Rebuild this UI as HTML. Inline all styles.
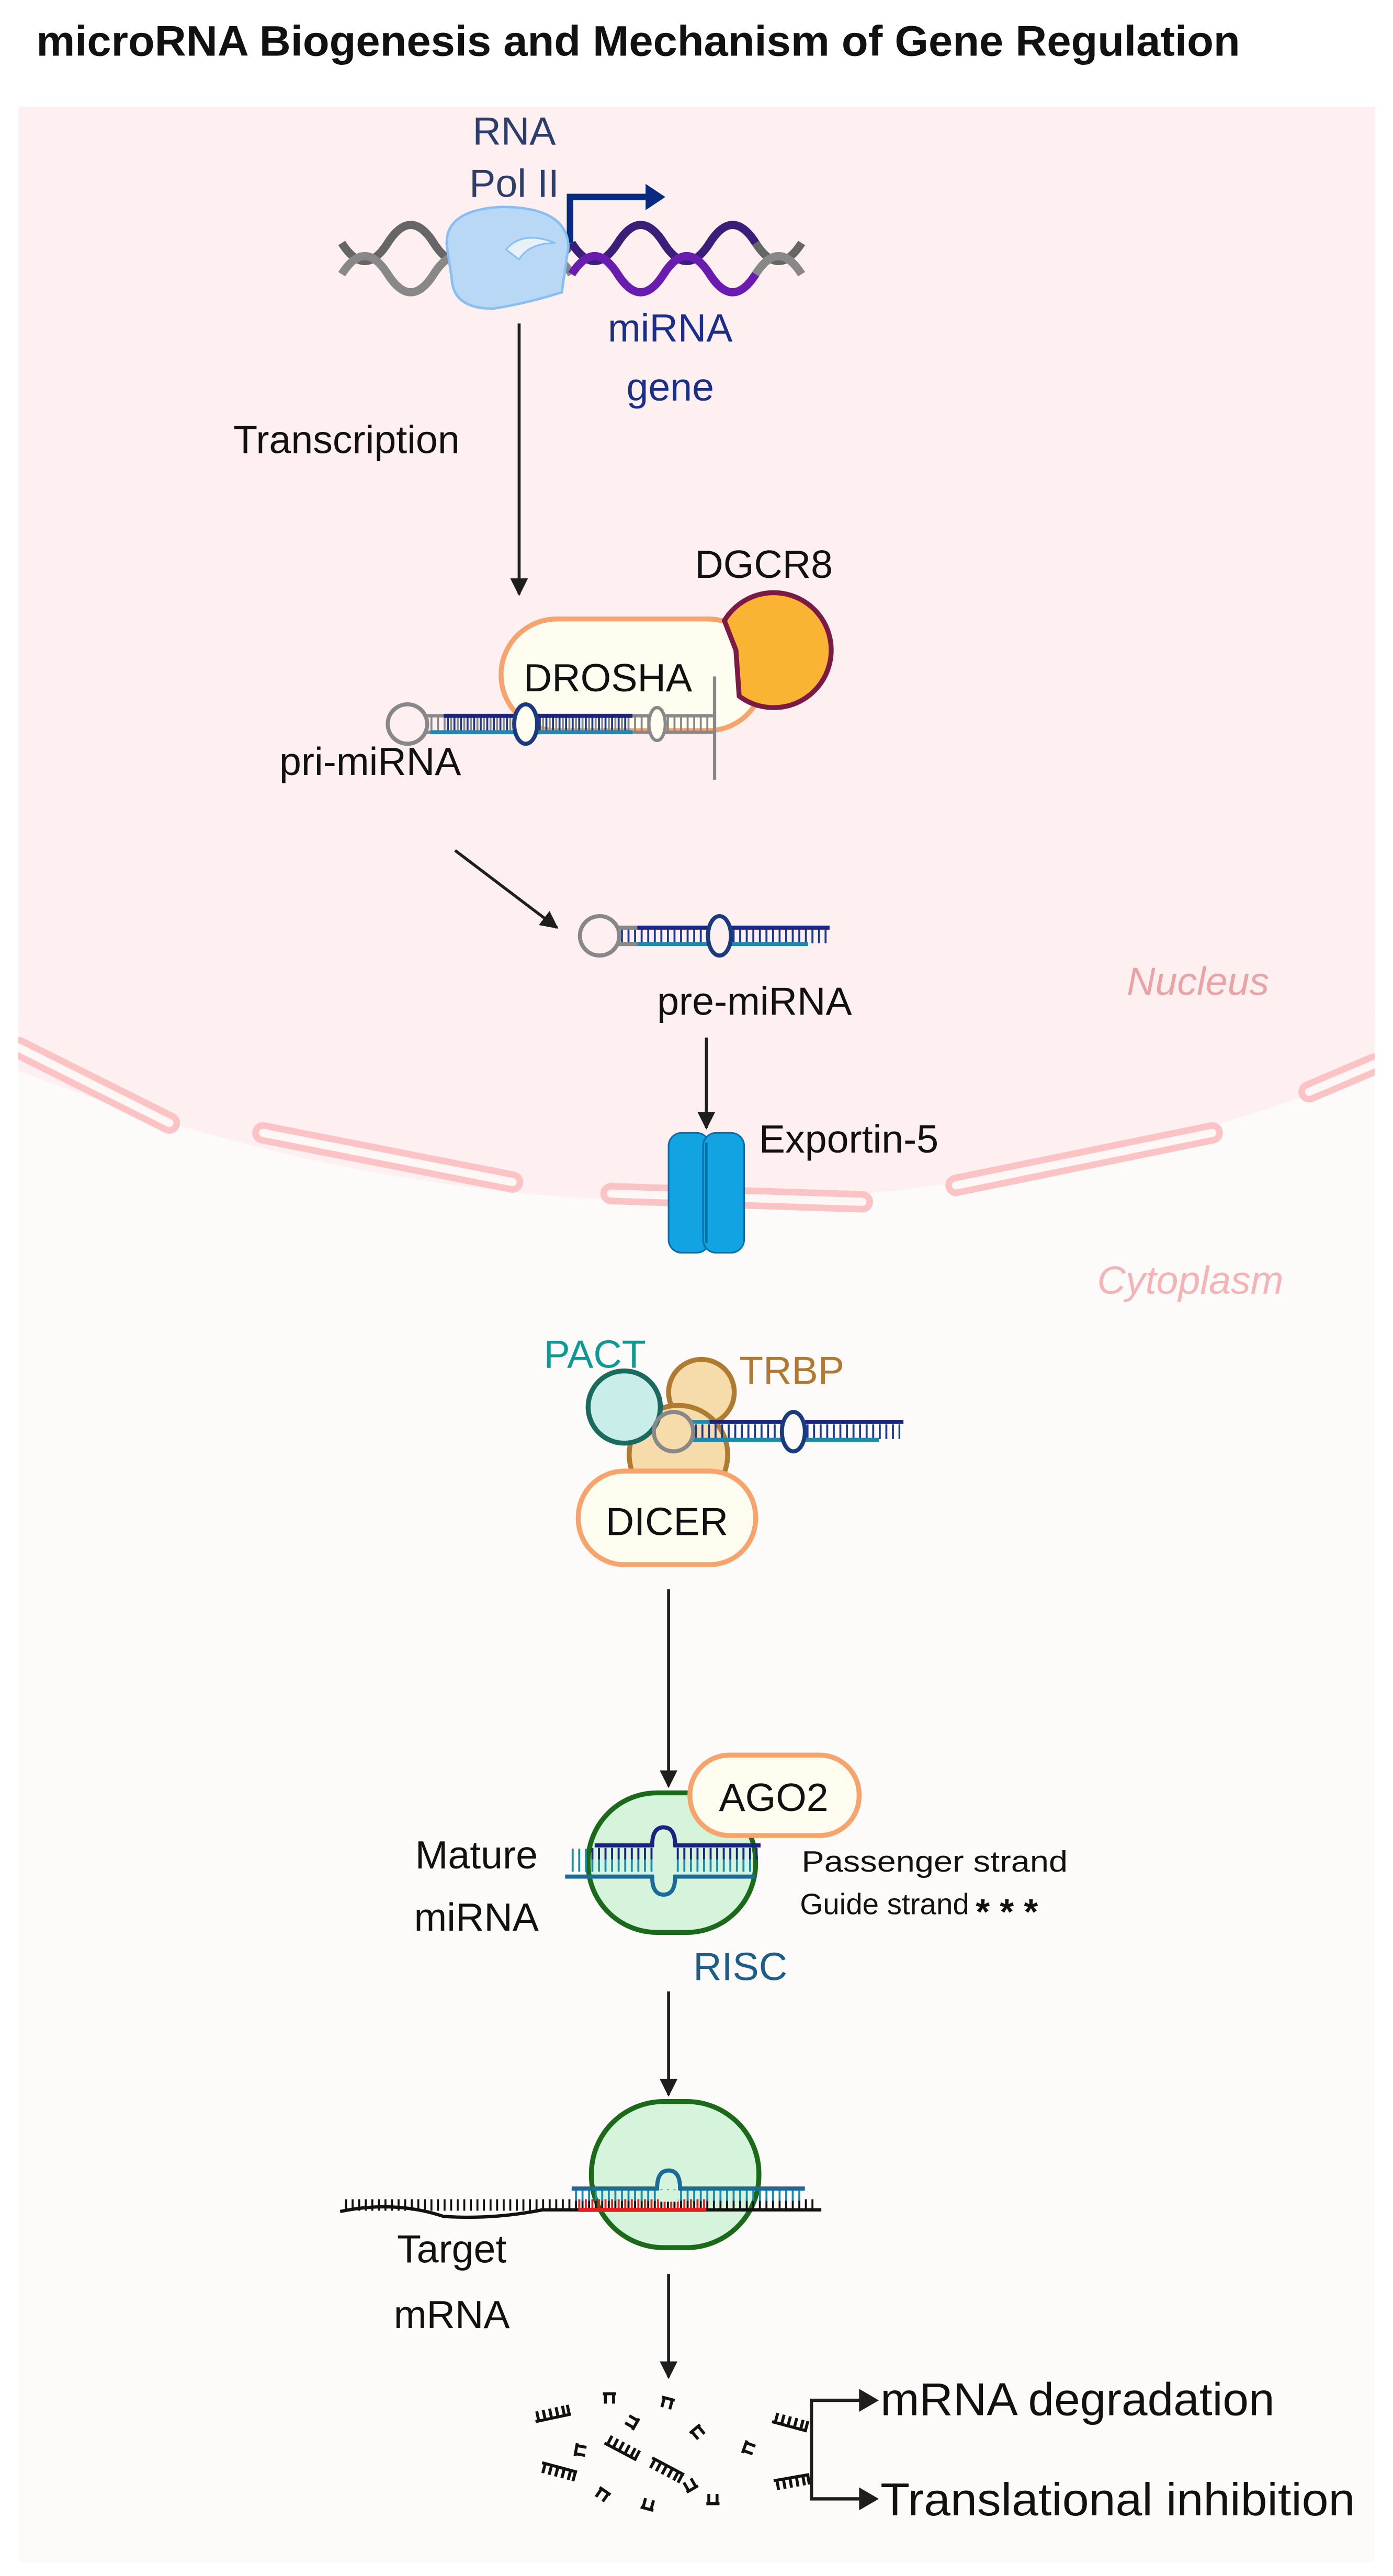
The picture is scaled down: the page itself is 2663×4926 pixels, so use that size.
<!DOCTYPE html>
<html><head><meta charset="utf-8"><style>
html,body{margin:0;padding:0;background:#fff}
svg{display:block}
text{font-family:"Liberation Sans",sans-serif}
</style></head><body>
<svg width="2663" height="4926" viewBox="0 0 848 1569" xmlns="http://www.w3.org/2000/svg">
<defs>
<marker id="ah" viewBox="0 0 10 10" refX="9" refY="5" markerWidth="6" markerHeight="6" orient="auto"><path d="M0 0L10 5L0 10z" fill="#1e1e1e"/></marker>
<g id="frag"><path d="M0 0H22M2 0v-6M6 0v-6M10 0v-6M14 0v-6M18 0v-6M21 0v-6" stroke="#111" stroke-width="1.8" fill="none"/></g>
<g id="frag2"><path d="M0 0H8M1.5 0v-6M6.5 0v-6" stroke="#111" stroke-width="1.8" fill="none"/></g>
</defs>
<rect width="848" height="1569" fill="#fff"/>
<text x="22" y="34" font-size="26" font-weight="bold" fill="#111" textLength="733" lengthAdjust="spacingAndGlyphs">microRNA Biogenesis and Mechanism of Gene Regulation</text>
<rect x="11" y="65" width="826" height="1496" fill="#fdfbfa"/>
<path d="M11 65H837V652Q424 812 11 652Z" fill="#fef0f1"/>
<g fill="none" stroke="#fbc3c4" stroke-width="13" stroke-linecap="round">
<path d="M11 638L103 684"/><path d="M160 690L312 720"/><path d="M372 727L525 732"/><path d="M582 722L738 690"/><path d="M797 665L837 648"/>
</g>
<g fill="none" stroke="#fff6f6" stroke-width="5" stroke-linecap="round">
<path d="M11 638L103 684"/><path d="M160 690L312 720"/><path d="M372 727L525 732"/><path d="M582 722L738 690"/><path d="M797 665L837 648"/>
</g>
<rect x="0" y="620" width="11" height="80" fill="#fff"/>
<rect x="837" y="620" width="11" height="80" fill="#fff"/>
<text x="686" y="606" font-size="24" font-style="italic" fill="#eaa3a4">Nucleus</text>
<text x="668" y="788" font-size="24" font-style="italic" fill="#f4b4b6">Cytoplasm</text>
<g fill="none" stroke-width="5">
<path d="M208 148 Q222 170 236 148 T264 148 T292 148 T320 148 T348 148" stroke="#666"/>
<path d="M208 167 Q222 145 236 167 T264 167 T292 167 T320 167 T348 167" stroke="#888"/>
<path d="M348 148 Q362 170 376 148 T404 148 T432 148 T460 148" stroke="#3a1e7a"/>
<path d="M348 167 Q362 145 376 167 T404 167 T432 167 T460 167" stroke="#6a1bb0"/>
<path d="M460 148 Q474 170 488 148" stroke="#666"/>
<path d="M460 167 Q474 145 488 167" stroke="#888"/>
</g>
<path d="M347 148V120H396" fill="none" stroke="#0a2a80" stroke-width="4"/>
<path d="M393 112L405 120L393 128Z" fill="#0a2a80"/>
<path d="M272 150Q270 128 305 126Q345 126 346 150L342 178Q320 185 300 188Q276 188 275 170Z" fill="#b9d8f5" stroke="#86bff0" stroke-width="1.5"/>
<path d="M308 152Q318 140 338 148Q322 148 316 158Z" fill="#e8f0fa" stroke="#86bff0"/>
<text x="313" y="88" font-size="24" fill="#2d3e6b" text-anchor="middle">RNA</text>
<text x="313" y="120" font-size="24" fill="#2d3e6b" text-anchor="middle">Pol II</text>
<text x="408" y="208" font-size="24" fill="#1a2f8a" text-anchor="middle">miRNA</text>
<text x="408" y="244" font-size="24" fill="#1a2f8a" text-anchor="middle">gene</text>
<text x="142" y="276" font-size="24" fill="#111">Transcription</text>
<rect x="305" y="377" width="160" height="68" rx="34" fill="#fffcf0" stroke="#f7a46c" stroke-width="3"/>
<text x="370" y="421" font-size="24" fill="#111" text-anchor="middle">DROSHA</text>
<path d="M441 378 A35 35 0 1 1 450 424 L448 396 Z" fill="#fbb334" stroke="#7b1a44" stroke-width="3"/>
<text x="423" y="352" font-size="24" fill="#111">DGCR8</text>
<g fill="none">
<line x1="262" y1="441" x2="434" y2="441" stroke="#888" stroke-width="9" stroke-dasharray="1.2 2.8"/>
<line x1="272" y1="441" x2="384" y2="441" stroke="#1a3a90" stroke-width="9" stroke-dasharray="1.2 2.8"/>
<path d="M258 436H434M258 446H434" stroke="#888" stroke-width="2"/>
<path d="M270 436H385" stroke="#1a237e" stroke-width="2.5"/>
<path d="M262 446H385" stroke="#1a8ab0" stroke-width="2.5"/>
<circle cx="248" cy="441" r="12" stroke="#888" stroke-width="2.5" fill="#fef0f1"/>
<ellipse cx="320" cy="441" rx="7" ry="12" stroke="#1a3a80" stroke-width="2.5" fill="#fffcf0"/>
<ellipse cx="400" cy="441" rx="5" ry="10" stroke="#888" stroke-width="2" fill="#fffcf0"/>
<path d="M435 412V475" stroke="#888" stroke-width="2"/>
</g>
<text x="170" y="472" font-size="24" fill="#111">pri-miRNA</text>
<g fill="none">
<line x1="378" y1="570" x2="504" y2="570" stroke="#1a3a90" stroke-width="9" stroke-dasharray="1.2 2.8"/>
<path d="M375 565H505M375 575H492" stroke="#1a8ab0" stroke-width="2.5"/>
<path d="M388 565H505" stroke="#1a237e" stroke-width="2.5"/>
<path d="M375 565H388M375 575H388" stroke="#888" stroke-width="2.5"/>
<circle cx="365" cy="570" r="12" stroke="#888" stroke-width="2.5" fill="#fef0f1"/>
<ellipse cx="438" cy="570" rx="7" ry="12" stroke="#1a3a80" stroke-width="2.5" fill="#fef0f1"/>
</g>
<text x="400" y="618" font-size="24" fill="#111">pre-miRNA</text>
<rect x="407" y="690" width="25" height="73" rx="8" fill="#12a3e3" stroke="#0a6fa8" stroke-width="1"/>
<rect x="428" y="690" width="25" height="73" rx="8" fill="#12a3e3" stroke="#0a6fa8" stroke-width="1"/>
<path d="M430 696V757" stroke="#0a6fa8" stroke-width="1.5"/>
<text x="462" y="702" font-size="24" fill="#111">Exportin-5</text>
<circle cx="427" cy="848" r="20" fill="#f5dcaa" stroke="#b07a30" stroke-width="3"/>
<circle cx="413" cy="886" r="30" fill="#f5dcaa" stroke="#b07a30" stroke-width="3"/>
<circle cx="380" cy="857" r="22" fill="#c9eeea" stroke="#1a6a60" stroke-width="3"/>
<g fill="none">
<line x1="423" y1="872" x2="548" y2="872" stroke="#1a3a90" stroke-width="9" stroke-dasharray="1.2 2.8"/>
<path d="M420 866H550M420 877H535" stroke="#1a8ab0" stroke-width="2.5"/>
<path d="M432 866H550" stroke="#1a237e" stroke-width="2.5"/>
<circle cx="410" cy="872" r="12" stroke="#888" stroke-width="2.5"/>
<ellipse cx="483" cy="872" rx="7" ry="12" stroke="#1a3a80" stroke-width="2.5" fill="#fdfbfa"/>
</g>
<text x="331" y="833" font-size="24" fill="#0e9a94">PACT</text>
<text x="450" y="843" font-size="24" fill="#b07830">TRBP</text>
<rect x="352" y="896" width="108" height="57" rx="28" fill="#fffcf0" stroke="#f7a46c" stroke-width="3"/>
<text x="406" y="935" font-size="24" fill="#111" text-anchor="middle">DICER</text>
<rect x="358" y="1092" width="102" height="85" rx="42" fill="#d6f3dc" stroke="#1a6a1a" stroke-width="3"/>
<rect x="420" y="1069" width="103" height="49" rx="24" fill="#fffcf0" stroke="#f7a46c" stroke-width="3"/>
<text x="471" y="1103" font-size="24" fill="#111" text-anchor="middle">AGO2</text>
<g fill="none">
<line x1="348" y1="1133" x2="458" y2="1133" stroke="#1a8ab0" stroke-width="14" stroke-dasharray="1.2 2.8"/>
<line x1="360" y1="1129" x2="463" y2="1129" stroke="#1a237e" stroke-width="7" stroke-dasharray="1.2 2.8"/>
<path d="M362 1124H397Q397 1113 404 1113Q411 1113 411 1124H463" stroke="#1a237e" stroke-width="2.5"/>
<path d="M344 1143H397Q397 1154 404 1154Q411 1154 411 1143H460" stroke="#1a6a9a" stroke-width="2.5"/>
<rect x="398" y="1125" width="12" height="17" fill="#d6f3dc"/>
</g>
<text x="290" y="1138" font-size="24" fill="#111" text-anchor="middle">Mature</text>
<text x="290" y="1176" font-size="24" fill="#111" text-anchor="middle">miRNA</text>
<text x="488" y="1140" font-size="18" fill="#111" textLength="162" lengthAdjust="spacingAndGlyphs">Passenger strand</text>
<text x="487" y="1166" font-size="18" fill="#111">Guide strand</text>
<text x="594" y="1172" font-size="22" fill="#111" font-weight="bold">* * *</text>
<text x="422" y="1206" font-size="24" fill="#1e5c8a">RISC</text>
<rect x="360" y="1280" width="102" height="89" rx="44" fill="#d6f3dc" stroke="#1a6a1a" stroke-width="3"/>
<g fill="none">
<path d="M207 1347Q240 1340 270 1350Q300 1352 330 1346H500" stroke="#111" stroke-width="2"/>
<line x1="210" y1="1343" x2="498" y2="1343" stroke="#111" stroke-width="7" stroke-dasharray="1.2 2.8"/>
<line x1="352" y1="1343" x2="430" y2="1343" stroke="#e02020" stroke-width="7" stroke-dasharray="1.2 2.8"/>
<line x1="350" y1="1337" x2="490" y2="1337" stroke="#1a8ab0" stroke-width="7" stroke-dasharray="1.2 2.8"/>
<path d="M352 1346H430" stroke="#e02020" stroke-width="2.5"/>
<path d="M348 1333H400Q400 1322 407 1322Q414 1322 414 1333H490" stroke="#1a6a9a" stroke-width="2.5"/>
<rect x="401" y="1334" width="12" height="7" fill="#d6f3dc"/>
</g>
<text x="275" y="1378" font-size="24" fill="#111" text-anchor="middle">Target</text>
<text x="275" y="1418" font-size="24" fill="#111" text-anchor="middle">mRNA</text>
<use href="#frag" transform="translate(326,1475) rotate(-12)"/>
<use href="#frag" transform="translate(330,1500) rotate(15) scale(1,-1)"/>
<use href="#frag" transform="translate(368,1488) rotate(28)"/>
<use href="#frag" transform="translate(397,1497) rotate(28) scale(1,-1)"/>
<use href="#frag" transform="translate(471,1511) rotate(-10) scale(1,-1)"/>
<use href="#frag" transform="translate(470,1475) rotate(15)"/>
<use href="#frag2" transform="translate(367,1458) scale(1,-1)"/>
<use href="#frag2" transform="translate(403,1460) rotate(15) scale(1,-1)"/>
<use href="#frag2" transform="translate(452,1494) rotate(-70) scale(1,-1)"/>
<use href="#frag2" transform="translate(430,1525)"/>
<use href="#frag2" transform="translate(390,1527) rotate(15)"/>
<use href="#frag2" transform="translate(365,1515) rotate(35) scale(1,-1)"/>
<use href="#frag2" transform="translate(350,1496) rotate(-80) scale(1,-1)"/>
<use href="#frag2" transform="translate(420,1482) rotate(-40) scale(1,-1)"/>
<use href="#frag2" transform="translate(385,1480) rotate(-60)"/>
<use href="#frag2" transform="translate(418,1518) rotate(-30)"/>
<g stroke="#1e1e1e" stroke-width="1.8" marker-end="url(#ah)">
<line x1="316" y1="197" x2="316" y2="362"/>
<line x1="277" y1="518" x2="339" y2="565"/>
<line x1="430" y1="632" x2="430" y2="687"/>
<line x1="407" y1="968" x2="407" y2="1088"/>
<line x1="407" y1="1213" x2="407" y2="1276"/>
<line x1="407" y1="1385" x2="407" y2="1448"/>
</g>
<path d="M530 1462H494V1522H530" fill="none" stroke="#1e1e1e" stroke-width="2"/>
<path d="M523 1455L535 1462L523 1469Z" fill="#1e1e1e"/>
<path d="M523 1515L535 1522L523 1529Z" fill="#1e1e1e"/>
<text x="536" y="1471" font-size="28" fill="#111" textLength="240" lengthAdjust="spacingAndGlyphs">mRNA degradation</text>
<text x="536" y="1532" font-size="28" fill="#111" textLength="289" lengthAdjust="spacingAndGlyphs">Translational inhibition</text>
</svg>
</body></html>
